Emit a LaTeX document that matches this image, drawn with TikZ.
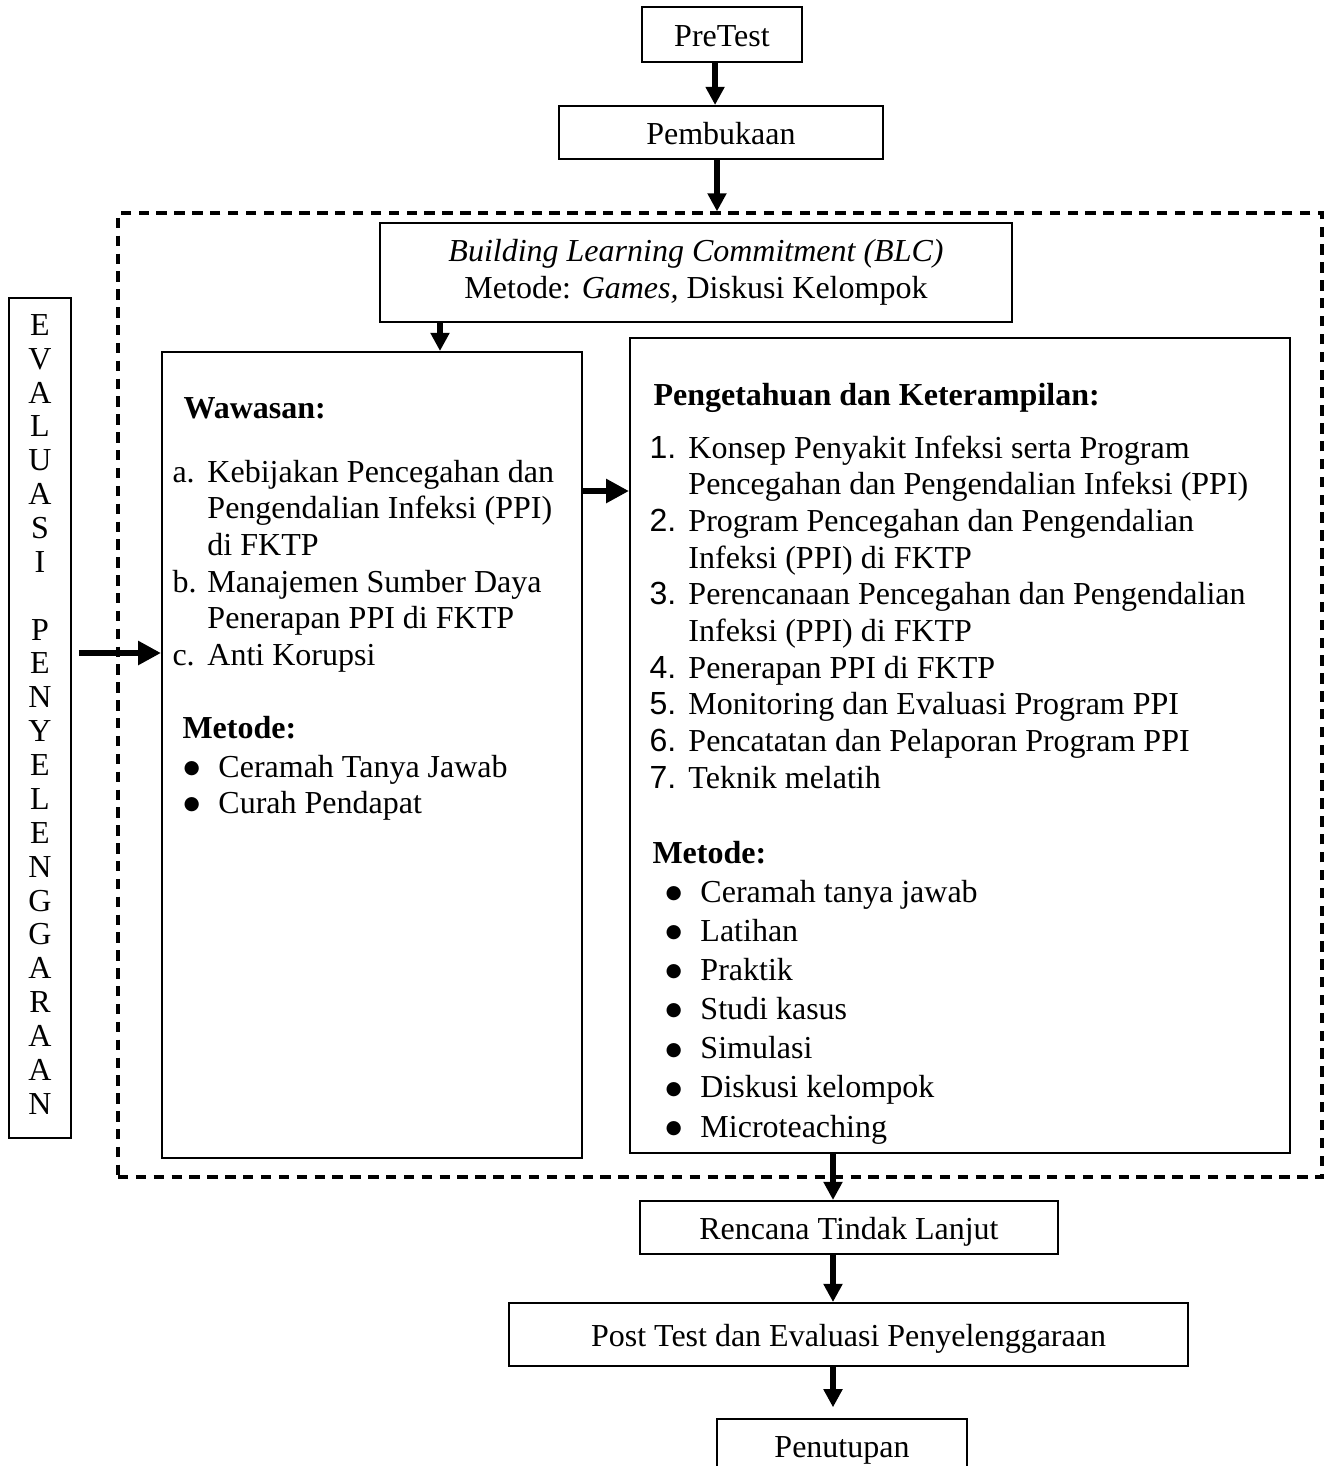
\documentclass[tikz,border=0pt]{standalone}
\usepackage{fontspec}
\setmainfont{Liberation Serif}
\newfontfamily\arialfont{Liberation Sans}
\newfontfamily\dejavufont{DejaVu Sans}
\usetikzlibrary{arrows.meta,positioning}
\newcommand{\bulet}{\raisebox{1.4pt}{\dejavufont\fontsize{7}{7}\selectfont ●}}

\begin{document}
\begin{tikzpicture}[x=0.375pt, y=-0.375pt, font=\fontsize{12}{13.76}\selectfont]
		% Define the styles for the boxes and arrows
		\tikzstyle{stepbox}=[rectangle, draw=black, line width=0.75pt, inner sep=0pt, text centered]
		\tikzstyle{stage}=[stepbox, text height=9pt, text depth=0pt]
		\tikzstyle{textblock}=[inner sep=0pt, anchor=base west]
		\tikzstyle{flow}=[line width=2.5pt, -{Triangle[length=6.8pt,width=6.8pt]}]
		\tikzstyle{side}=[line width=2.5pt, -{Triangle[length=8.6pt,width=8.6pt]}]

		\useasboundingbox (0,0) rectangle (1327,1466);

		% Define nodes
		\node (pretest) [stage, minimum width=60pt, minimum height=20.6pt] at (722,34.5) {PreTest};
		\node (pembukaan) [stage, minimum width=121.5pt, minimum height=19.9pt] at (721,132.5) {Pembukaan};
		\node (inti) [draw, line width=1.2pt, dash pattern=on 3.9pt off 2.8pt, inner sep=0pt,
			minimum width=451.5pt, minimum height=361.5pt] at (720,695) {};
		\node (blc) [stepbox, align=center, minimum width=237pt, minimum height=37.1pt] at (696,272.5)
			{\textit{Building Learning Commitment (BLC)}\\Metode: \textit{Games,} Diskusi Kelompok};
		\node (wawasan) [stepbox, minimum width=157.5pt, minimum height=302.25pt] at (372,755) {};
		\node (materi) [stepbox, minimum width=247.5pt, minimum height=305.6pt] at (960,745.5) {};
		\node (evaluasi) [stepbox, minimum width=23.25pt, minimum height=315pt] at (40,718)
			{\fontsize{12}{12.7}\selectfont\begin{tabular}{@{}c@{}}
			E\\V\\A\\L\\U\\A\\S\\I\\ \\P\\E\\N\\Y\\E\\L\\E\\N\\G\\G\\A\\R\\A\\A\\N
			\end{tabular}};
		\node (rencana) [stage, minimum width=156.75pt, minimum height=19.9pt] at (849,1227.5) {Rencana Tindak Lanjut};
		\node (post) [stage, minimum width=254.6pt, minimum height=23.6pt] at (848.5,1334.5) {Post Test dan Evaluasi Penyelenggaraan};
		\node (penutupan) [stage, minimum width=93.75pt, minimum height=19.9pt] at (842,1445.5) {Penutupan};
		\coordinate (lanjutx) at (833,0);

		% Texts inside the two boxes
		\node (wawasanhead) [textblock] at (183,418) {\textbf{Wawasan:}};
		\node (wawasanlist) [textblock] at (172,482) {\begin{tabular}[t]{@{}p{13.1pt}@{}l@{}}
			a. & Kebijakan Pencegahan dan\\
			   & Pengendalian Infeksi (PPI)\\
			   & di FKTP\\
			b. & Manajemen Sumber Daya\\
			   & Penerapan PPI di FKTP\\
			c. & Anti Korupsi
			\end{tabular}};
		\node (metodekiri) [textblock] at (182,738) {\textbf{Metode:}};
		\node (metodekirilist) [textblock] at (183,777) {\begin{tabular}[t]{@{}p{13.1pt}@{}l@{}}
			\bulet & Ceramah Tanya Jawab\\
			\bulet & Curah Pendapat
			\end{tabular}};

		\node (materihead) [textblock] at (653,405) {\textbf{Pengetahuan dan Keterampilan:}};
		\node (materilist) [textblock] at (649,458) {\begin{tabular}[t]{@{}p{14.6pt}@{}l@{}}
			\arialfont 1. & Konsep Penyakit Infeksi serta Program\\
			              & Pencegahan dan Pengendalian Infeksi (PPI)\\
			\arialfont 2. & Program Pencegahan dan Pengendalian\\
			              & Infeksi (PPI) di FKTP\\
			\arialfont 3. & Perencanaan Pencegahan dan Pengendalian\\
			              & Infeksi (PPI) di FKTP\\
			\arialfont 4. & Penerapan PPI di FKTP\\
			\arialfont 5. & Monitoring dan Evaluasi Program PPI\\
			\arialfont 6. & Pencatatan dan Pelaporan Program PPI\\
			\arialfont 7. & Teknik melatih
			\end{tabular}};
		\node (metodekanan) [textblock] at (652,863) {\textbf{Metode:}};
		\node (metodekananlist) [textblock] at (665,902) {\renewcommand{\arraystretch}{1.068}%
			\begin{tabular}[t]{@{}p{13.1pt}@{}l@{}}
			\bulet & Ceramah tanya jawab\\
			\bulet & Latihan\\
			\bulet & Praktik\\
			\bulet & Studi kasus\\
			\bulet & Simulasi\\
			\bulet & Diskusi kelompok\\
			\bulet & Microteaching
			\end{tabular}};

		% Define edges
		\draw[flow] ([xshift=-2.6pt]pretest.south) -- ([xshift=-2.6pt]pretest.south |- pembukaan.north);
		\draw[flow] ([xshift=-1.5pt]pembukaan.south) -- ([xshift=-1.5pt]pembukaan.south |- inti.north);
		\draw[flow] ([xshift=25.5pt]wawasan.north |- blc.south) -- ([xshift=25.5pt]wawasan.north);
		\draw[side] (wawasan.east |- 0,491) -- (materi.west |- 0,491);
		\draw[side] ([xshift=2.6pt]evaluasi.east |- 0,653) -- (wawasan.west |- 0,653);

		\draw[flow] (materi.south -| lanjutx) -- (rencana.north -| lanjutx);
		\draw[flow] (rencana.south -| lanjutx) -- (post.north -| lanjutx);
		\draw[flow, shorten >=4pt] (post.south -| lanjutx) -- (penutupan.north -| lanjutx);
	\end{tikzpicture}
\end{document}
